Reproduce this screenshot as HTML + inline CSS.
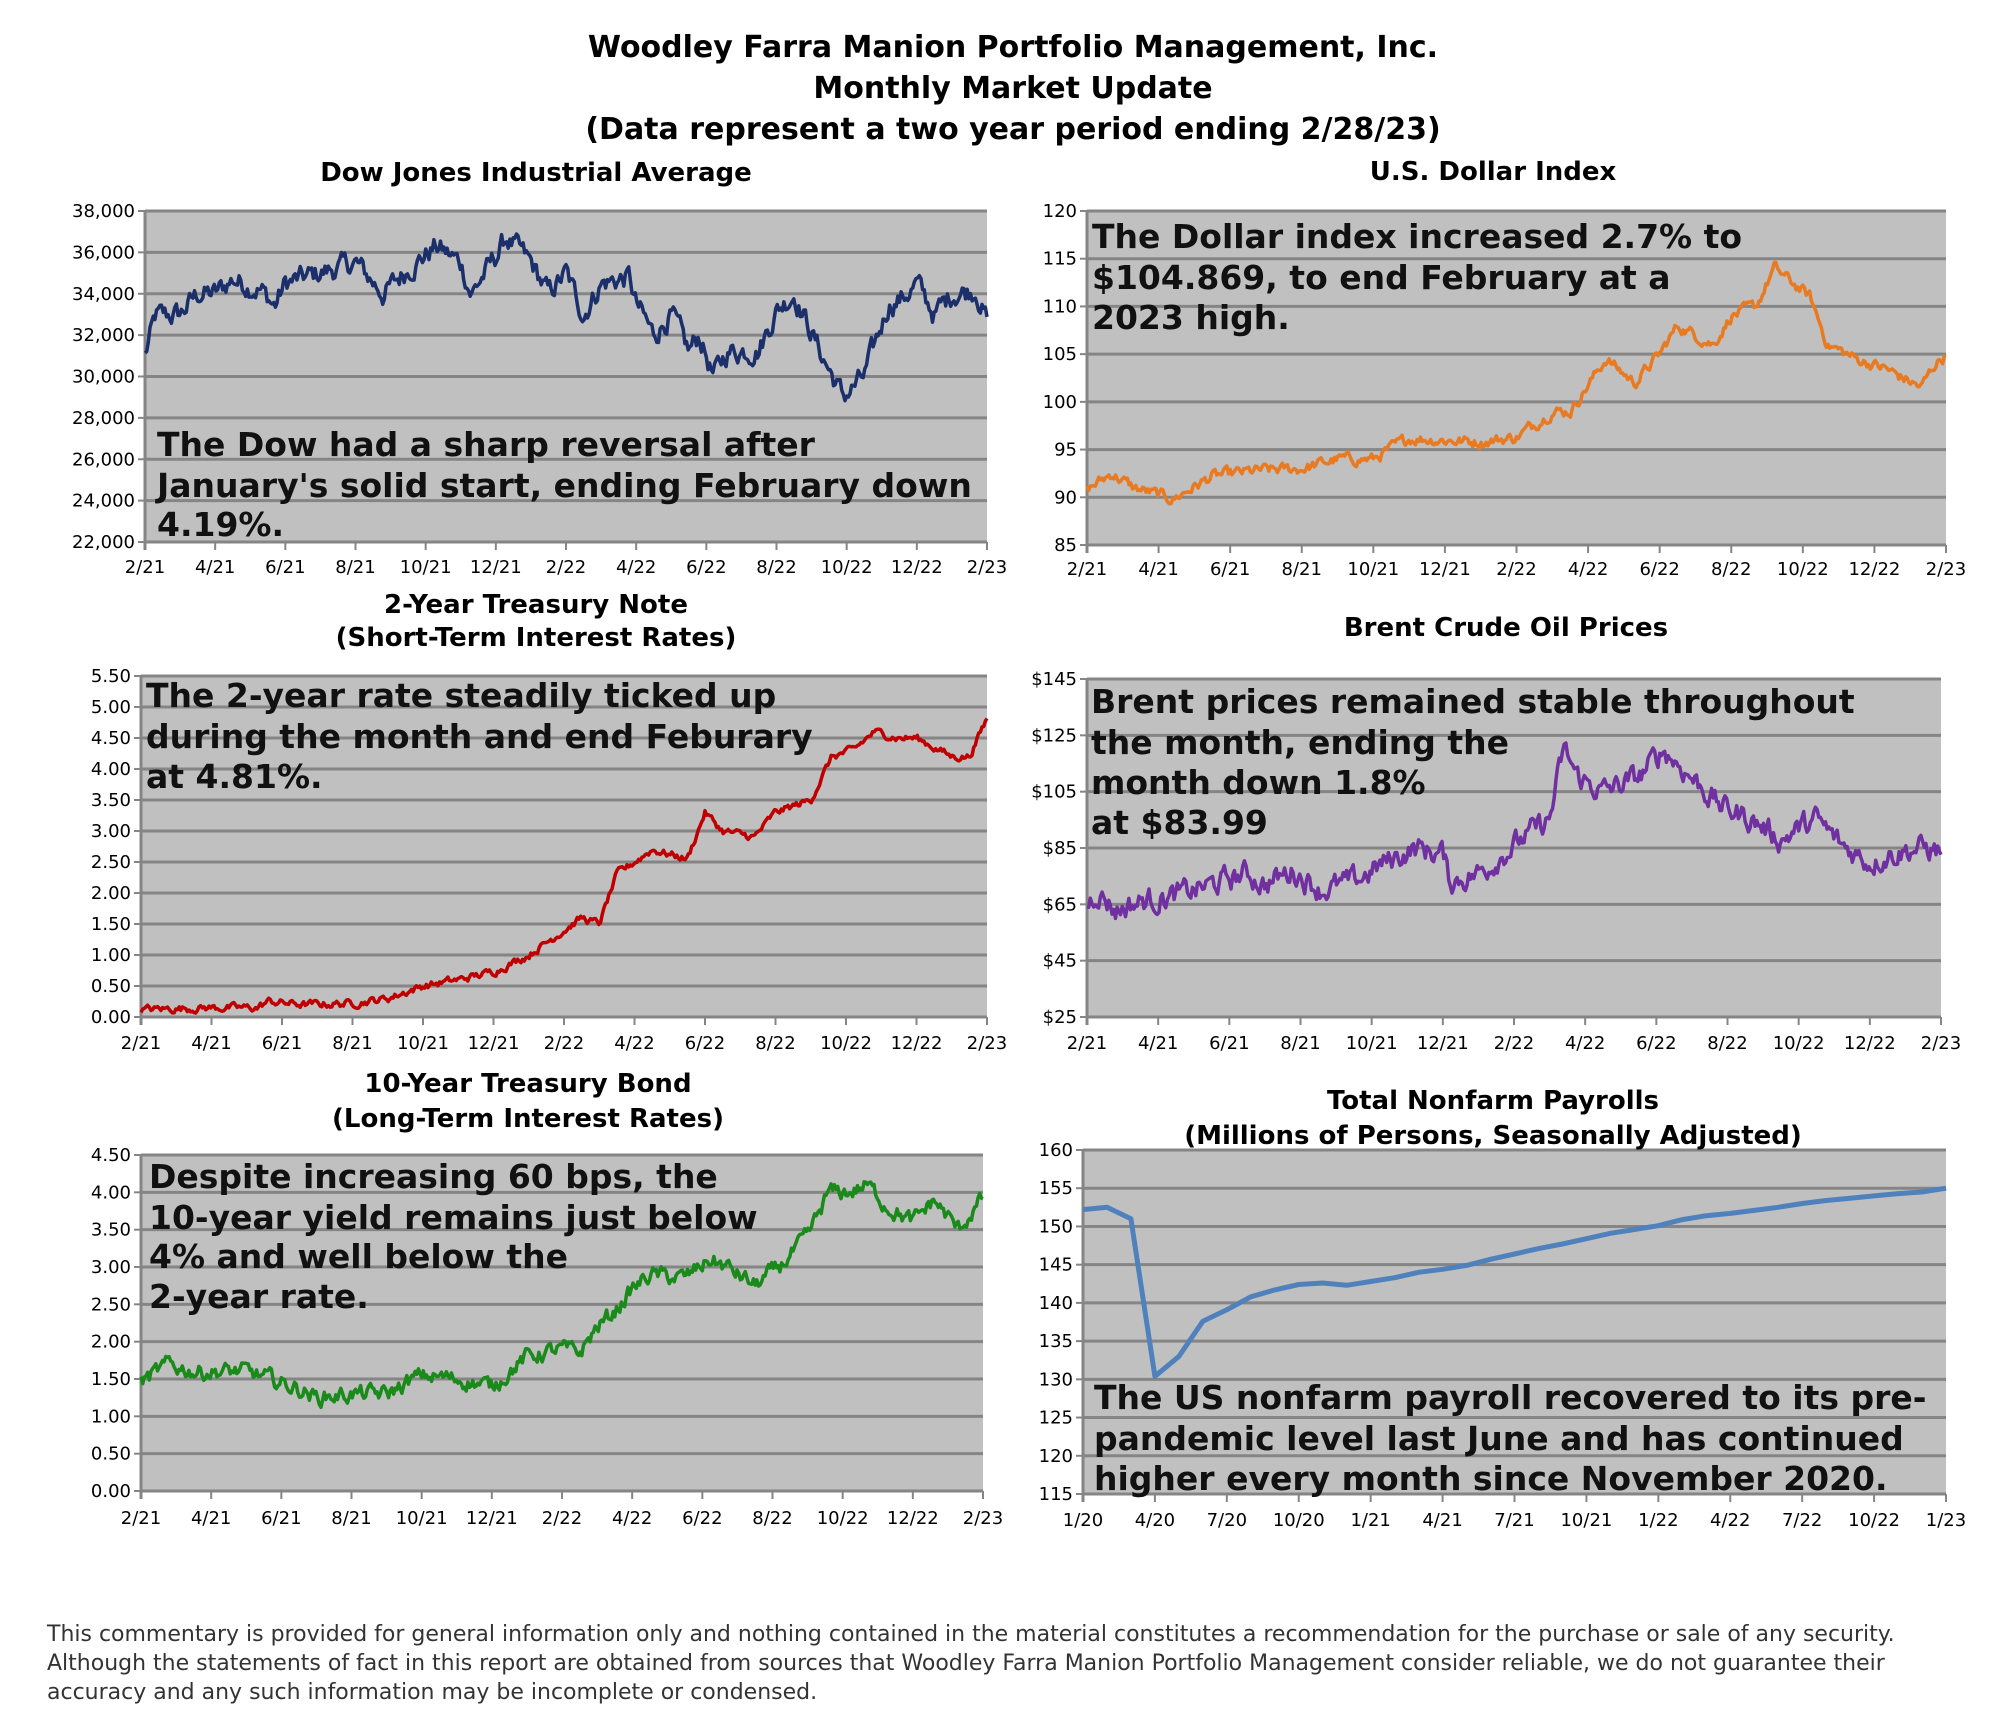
<!DOCTYPE html>
<html><head><meta charset="utf-8">
<style>
html,body{margin:0;padding:0;background:#fff;width:2000px;height:1728px;overflow:hidden}
svg{display:block}
text{font-family:"DejaVu Sans","Liberation Sans",sans-serif}
</style></head>
<body>
<svg id="s" width="2000" height="1728" viewBox="0 0 2000 1728" xmlns="http://www.w3.org/2000/svg">
<g font-weight="bold" font-size="30" text-anchor="middle" fill="#000">
<text x="1013" y="57">Woodley Farra Manion Portfolio Management, Inc.</text>
<text x="1013" y="98">Monthly Market Update</text>
<text x="1013" y="139">(Data represent a two year period ending 2/28/23)</text>
</g>
<g font-size="22" fill="#333">
<text x="47" y="1641">This commentary is provided for general information only and nothing contained in the material constitutes a recommendation for the purchase or sale of any security.</text>
<text x="47" y="1670">Although the statements of fact in this report are obtained from sources that Woodley Farra Manion Portfolio Management consider reliable, we do not guarantee their</text>
<text x="47" y="1699">accuracy and any such information may be incomplete or condensed.</text>
</g>
</svg>
<script>
var S=document.getElementById('s'),NS='http://www.w3.org/2000/svg';
function el(t,a,txt){var e=document.createElementNS(NS,t);for(var k in a)e.setAttribute(k,a[k]);if(txt!==undefined)e.textContent=txt;S.appendChild(e);return e;}
var seed=12345;function rnd(){seed=(seed*1103515245+12345)%2147483648;return seed/2147483648;}
var mlab=['2/21','4/21','6/21','8/21','10/21','12/21','2/22','4/22','6/22','8/22','10/22','12/22','2/23'];
function chart(c){
  var x0=c.x0,x1=c.x1,y0=c.y0,y1=c.y1,n=c.ticks.length-1;
  el('rect',{x:x0,y:y0,width:x1-x0,height:y1-y0,fill:'#c0c0c0'});
  for(var i=0;i<=n;i++){var y=y0+(y1-y0)*i/n;
    el('line',{x1:x0,x2:x1,y1:y,y2:y,stroke:'#858585','stroke-width':3});
    el('line',{x1:x0-7,x2:x0,y1:y,y2:y,stroke:'#858585','stroke-width':2});
    el('text',{x:x0-10,y:y+6,'font-size':18,'text-anchor':'end',fill:'#000'},c.ticks[i]);}
  el('line',{x1:x0,x2:x0,y1:y0,y2:y1+8,stroke:'#858585','stroke-width':3});
  var L=c.xl,m=L.length-1;
  for(var j=0;j<=m;j++){var x=x0+(x1-x0)*j/m;
    el('line',{x1:x,x2:x,y1:y1,y2:y1+8,stroke:'#858585','stroke-width':2});
    el('text',{x:x,y:c.xly,'font-size':18,'text-anchor':'middle',fill:'#000'},L[j]);}
  for(var t=0;t<c.title.length;t++)el('text',{x:c.tx,y:c.ty[t],'font-size':26,'font-weight':'bold','text-anchor':'middle'},c.title[t]);
  var vmax=c.vmax,vmin=c.vmin,pts=[],K=c.k,T=c.T;
  function yv(v){return y0+(vmax-v)/(vmax-vmin)*(y1-y0);}
  if(c.monthly){for(var i=0;i<K.length;i++)pts.push((x0+(x1-x0)*i/(K.length-1)).toFixed(1)+','+yv(K[i]).toFixed(1));}
  else{var N=510,ar=0,ki=0;
   for(var i=0;i<=N;i++){var tm=T*i/N;while(ki<K.length-2&&K[ki+1][0]<tm)ki++;
    var a=K[ki],b=K[ki+1],f=(tm-a[0])/(b[0]-a[0]);f=Math.max(0,Math.min(1,f));
    var v=a[1]+(b[1]-a[1])*f;ar=ar*0.6+(rnd()-0.5)*c.nz;
    pts.push((x0+(x1-x0)*tm/T).toFixed(1)+','+yv(v+ar).toFixed(1));}}
  el('polyline',{points:pts.join(' '),fill:'none',stroke:c.col,'stroke-width':c.w||3.5,'stroke-linejoin':'round'});
  for(var t=0;t<c.note.length;t++)el('text',{x:c.nx,y:c.ny[t],'font-size':33,'font-weight':'bold',fill:'#111'},c.note[t]);
}
chart({x0:145,x1:987,y0:211,y1:542,ticks:['38,000','36,000','34,000','32,000','30,000','28,000','26,000','24,000','22,000'],xl:mlab,xly:573,
 title:['Dow Jones Industrial Average'],tx:536,ty:[181],vmax:38000,vmin:22000,T:24,nz:900,col:'#1b2f6b',
 k:[[0,31000],[0.3,32900],[1,33000],[1.5,34000],[2,34000],[2.5,34700],[3.3,34200],[3.7,33400],[4,34500],[5,35000],[6,35500],[6.8,34000],[7.5,35200],[8.3,36300],[9,35500],[9.3,34000],[10,35800],[10.3,36700],[11,35500],[11.5,34000],[12,35000],[12.5,33000],[13,34500],[13.8,34800],[14,33500],[14.5,32000],[15,33000],[15.5,31200],[15.8,32000],[16.2,30000],[16.6,31200],[17.5,31300],[18,33200],[18.5,34000],[19.3,31000],[19.9,29000],[20.5,30000],[21.2,33500],[21.6,33800],[22,34500],[22.5,33000],[23,34000],[23.7,34200],[24,32700]],
 note:['The Dow had a sharp reversal after',"January's solid start, ending February down",'4.19%.'],nx:157,ny:[456,497,536]});
chart({x0:1087,x1:1946,y0:211,y1:545,ticks:['120','115','110','105','100','95','90','85'],xl:mlab,xly:575,
 title:['U.S. Dollar Index'],tx:1493,ty:[180],vmax:120,vmin:85,T:24,nz:1.0,col:'#e87a22',
 k:[[0,90.8],[0.7,92.5],[1.3,91],[2.4,89.8],[3.5,92.2],[4.8,92.8],[6,93],[7,94],[8,94],[9,96.2],[10,96],[11,95.8],[12,96.3],[13,99],[13.5,99],[14.5,104.5],[15.3,102],[16,105],[16.5,108],[17.5,106],[18,109],[18.7,110],[19.2,114],[20.2,111],[20.7,106],[21.5,104.5],[22.3,103.5],[23.3,101.5],[23.7,104],[24,104.9]],
 note:['The Dollar index increased 2.7% to','$104.869, to end February at a','2023 high.'],nx:1092,ny:[248,289,329]});
chart({x0:141,x1:987,y0:676,y1:1017,ticks:['5.50','5.00','4.50','4.00','3.50','3.00','2.50','2.00','1.50','1.00','0.50','0.00'],xl:mlab,xly:1049,
 title:['2-Year Treasury Note','(Short-Term Interest Rates)'],tx:536,ty:[613,646],vmax:5.5,vmin:0,T:24,nz:0.1,col:'#c00000',
 k:[[0,0.12],[2,0.15],[3.3,0.15],[3.6,0.25],[4.6,0.2],[6,0.22],[7,0.3],[8,0.5],[9,0.6],[10,0.73],[11,1.0],[12,1.4],[12.5,1.6],[13,1.5],[13.5,2.3],[14,2.5],[14.5,2.7],[15.5,2.55],[16,3.3],[16.5,3.0],[17.4,2.9],[18,3.3],[19,3.5],[19.6,4.2],[20.2,4.3],[20.8,4.6],[21.5,4.5],[22,4.5],[23,4.2],[23.5,4.2],[24,4.81]],
 note:['The 2-year rate steadily ticked up','during the month and end Feburary','at 4.81%.'],nx:146,ny:[707,748,788]});
chart({x0:1087,x1:1941,y0:679,y1:1017,ticks:['$145','$125','$105','$85','$65','$45','$25'],xl:mlab,xly:1049,
 title:['Brent Crude Oil Prices'],tx:1506,ty:[636],vmax:145,vmin:25,T:24,nz:7,col:'#7030a0',
 k:[[0,65],[0.3,70],[0.8,63],[1.5,66],[2.5,68],[3.5,72],[4.5,76],[5,72],[5.8,77],[6.6,70],[7.5,73],[8.4,80],[9.2,85],[10,83],[10.2,73],[11,76],[12,86],[13,95],[13.4,120],[13.8,110],[14.5,105],[15.5,110],[16.2,120],[17,110],[17.8,100],[18.7,95],[19.5,88],[20,92],[20.5,95],[21.2,86],[22,80],[22.6,83],[23.3,85],[24,84]],
 note:['Brent prices remained stable throughout','the month, ending the','month down 1.8%','at $83.99'],nx:1091,ny:[713,754,794,834]});
chart({x0:141,x1:983,y0:1155,y1:1491,ticks:['4.50','4.00','3.50','3.00','2.50','2.00','1.50','1.00','0.50','0.00'],xl:mlab,xly:1524,
 title:['10-Year Treasury Bond','(Long-Term Interest Rates)'],tx:528,ty:[1092,1127],vmax:4.5,vmin:0,T:24,nz:0.18,col:'#1a8a1a',
 k:[[0,1.45],[0.8,1.7],[1.5,1.6],[3,1.6],[4,1.45],[4.6,1.35],[5,1.25],[6,1.3],[7,1.3],[8,1.55],[9,1.5],[10,1.4],[11,1.8],[12,1.9],[12.5,1.85],[13,2.2],[13.5,2.4],[14,2.7],[14.5,2.9],[15.5,2.85],[16.2,3.1],[16.7,3.0],[17.5,2.75],[18.2,3.0],[19,3.4],[19.6,4.0],[20.2,4.0],[20.7,4.1],[21.3,3.8],[22,3.6],[22.6,3.9],[23.3,3.5],[24,3.92]],
 note:['Despite increasing 60 bps, the','10-year yield remains just below','4% and well below the','2-year rate.'],nx:149,ny:[1188,1229,1268,1308]});
chart({x0:1083,x1:1946,y0:1150,y1:1494,ticks:['160','155','150','145','140','135','130','125','120','115'],xl:['1/20','4/20','7/20','10/20','1/21','4/21','7/21','10/21','1/22','4/22','7/22','10/22','1/23'],xly:1526,
 title:['Total Nonfarm Payrolls','(Millions of Persons, Seasonally Adjusted)'],tx:1493,ty:[1109,1144],vmax:160,vmin:115,monthly:true,w:5,col:'#4f81bd',
 k:[152.2,152.5,151,130.4,133,137.6,139.1,140.8,141.7,142.4,142.6,142.3,142.8,143.3,144,144.4,144.9,145.7,146.4,147.1,147.7,148.4,149.1,149.6,150.1,150.9,151.4,151.7,152.1,152.5,153,153.4,153.7,154.0,154.3,154.5,155.0],
 note:['The US nonfarm payroll recovered to its pre-','pandemic level last June and has continued','higher every month since November 2020.'],nx:1094,ny:[1409,1450,1490]});
</script>
</body></html>
